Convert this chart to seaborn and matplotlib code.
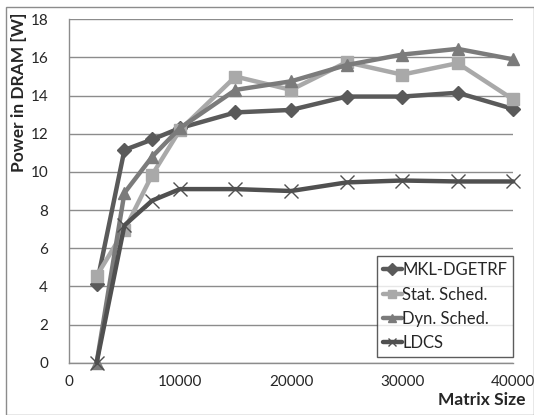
import pandas as pd
import matplotlib.pyplot as plt
import seaborn as sns
from matplotlib.patches import Rectangle

# data
sizes = [2500, 5000, 7500, 10000, 15000, 20000, 25000, 30000, 35000, 40000]
mkl = [4.1, 11.15, 11.7, 12.3, 13.12, 13.25, 13.95, 13.95, 14.15, 13.3]
stat_sched = [4.55, 6.95, 9.85, 12.2, 15.0, 14.3, 15.75, 15.1, 15.7, 13.8]
dyn_sched = [0.0, 8.9, 10.8, 12.3, 14.3, 14.75, 15.6, 16.15, 16.45, 15.9]
ldcs = [0.0, 7.2, 8.5, 9.1, 9.1, 9.0, 9.45, 9.55, 9.5, 9.5]

series_names = ['MKL-DGETRF', 'Stat. Sched.', 'Dyn. Sched.', 'LDCS']
series_vals = [mkl, stat_sched, dyn_sched, ldcs]
colors = ['#5a5a5a', '#a9a9a9', '#7b7b7b', '#505050']
markers = ['D', 's', '^', 'x']
msizes = [7, 9, 9, 10]

sns.set_style('white')
plt.rcParams['font.family'] = ['Lato', 'DejaVu Sans']

fig = plt.figure(figsize=(5.34, 4.15), dpi=100)
ax = fig.add_axes([0.129, 0.126, 0.832, 0.8275])

for name, vals, c, m, ms in zip(series_names, series_vals, colors, markers, msizes):
    df = pd.DataFrame({'size': sizes, 'power': vals})
    sns.lineplot(data=df, x='size', y='power', ax=ax, color=c, linewidth=3.2,
                 marker=m, markersize=ms, markeredgecolor=c, markeredgewidth=1,
                 label=name, clip_on=False, zorder=3)

ax.set_xlim(0, 40000)
ax.set_ylim(0, 18)
ax.set_xticks([0, 10000, 20000, 30000, 40000])
ax.set_yticks(range(0, 19, 2))
ax.yaxis.grid(True, color='#8c8c8c', linewidth=1)
ax.xaxis.grid(False)
for s in ['top', 'right']:
    ax.spines[s].set_visible(False)
for s in ['left', 'bottom']:
    ax.spines[s].set_color('#8c8c8c')
    ax.spines[s].set_linewidth(1)
ax.tick_params(axis='both', direction='out', length=5, color='#8c8c8c', labelsize=11)
ax.tick_params(axis='x', pad=4)
ax.tick_params(axis='y', pad=10)

ax.set_xlabel('')
ax.set_ylabel('')
fig.text(0.985, 0.018, 'Matrix Size', ha='right', va='bottom', fontsize=12.5, fontweight='bold')
fig.text(0.036, 0.969, 'Power in DRAM [W]', ha='center', va='top', rotation=90,
         fontsize=12.5, fontweight='bold')

leg = ax.legend(loc='lower right', bbox_to_anchor=(1.0, 0.0166), frameon=True, fancybox=False,
                fontsize=12, handlelength=1.1, handletextpad=0.05, borderpad=0.35,
                labelspacing=0.5, borderaxespad=0)
leg.get_frame().set_edgecolor('#333333')
leg.get_frame().set_linewidth(1)
for h in leg.legend_handles:
    h.set_markersize(6)

# outer chart border
fig.patches.append(Rectangle((0.011, 0.0), 0.989, 0.983, transform=fig.transFigure,
                             fill=False, edgecolor='#8c8c8c', linewidth=1))

fig.savefig('out.png', dpi=100)
